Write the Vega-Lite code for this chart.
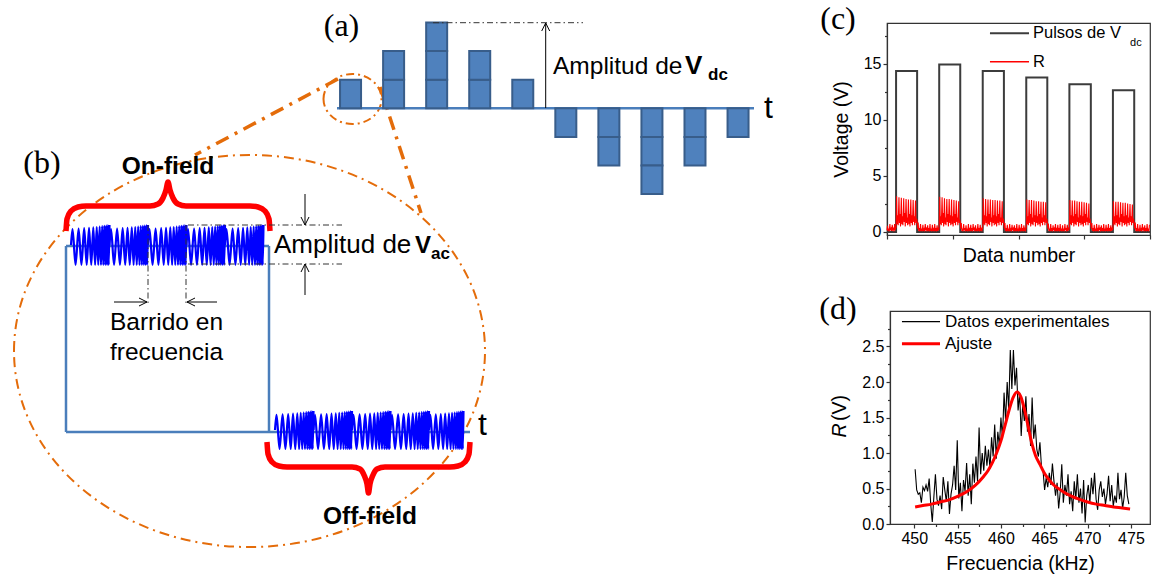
{
  "$schema": "https://vega.github.io/schema/vega-lite/v6.json",
  "padding": 0,
  "autosize": {"type": "pad"},
  "background": "white",
  "spacing": 0,
  "bounds": "flush",
  "datasets": {
    "blocks": [
      {"t": 1, "lo": 0, "hi": 1},
      {"t": 2, "lo": 0, "hi": 1}, {"t": 2, "lo": 1, "hi": 2},
      {"t": 3, "lo": 0, "hi": 1}, {"t": 3, "lo": 1, "hi": 2}, {"t": 3, "lo": 2, "hi": 3},
      {"t": 4, "lo": 0, "hi": 1}, {"t": 4, "lo": 1, "hi": 2},
      {"t": 5, "lo": 0, "hi": 1},
      {"t": 6, "lo": -1, "hi": 0},
      {"t": 7, "lo": -1, "hi": 0}, {"t": 7, "lo": -2, "hi": -1},
      {"t": 8, "lo": -1, "hi": 0}, {"t": 8, "lo": -2, "hi": -1}, {"t": 8, "lo": -3, "hi": -2},
      {"t": 9, "lo": -1, "hi": 0}, {"t": 9, "lo": -2, "hi": -1},
      {"t": 10, "lo": -1, "hi": 0}
    ],
    "chirp": [
      {"u": 0, "v": 0}, {"u": 1.5, "v": 0.8}, {"u": 4.5, "v": -1}, {"u": 7.5, "v": 0.82}, {"u": 10.3, "v": -1},
      {"u": 13, "v": 0.84}, {"u": 15.5, "v": -1}, {"u": 17.8, "v": 0.86}, {"u": 20, "v": -1}, {"u": 22, "v": 0.88},
      {"u": 23.8, "v": -1}, {"u": 25.4, "v": 0.9}, {"u": 26.9, "v": -1}, {"u": 28.3, "v": 0.92}, {"u": 29.6, "v": -1},
      {"u": 30.8, "v": 0.94}, {"u": 31.9, "v": -1}, {"u": 32.9, "v": 0.96}, {"u": 33.9, "v": -1}, {"u": 34.8, "v": 0.97},
      {"u": 35.6, "v": -1}, {"u": 36.4, "v": 0.98}, {"u": 37.2, "v": -1}, {"u": 38, "v": 1}
    ],
    "bigEllipse": [{"x": 249.5, "y": 351}],
    "smallEllipse": [{"x": 352.5, "y": 99}],
    "links": [
      {"x": 338, "y": 79, "x2": 195, "y2": 155},
      {"x": 380, "y": 87, "x2": 421, "y2": 213}
    ],
    "blueLines": [
      {"x": 66, "y": 246, "x2": 269, "y2": 246},
      {"x": 66, "y": 246, "x2": 66, "y2": 432},
      {"x": 269, "y": 246, "x2": 269, "y2": 432},
      {"x": 66, "y": 432, "x2": 470, "y2": 432},
      {"x": 337, "y": 108.3, "x2": 754, "y2": 108.3}
    ],
    "dashDot": [
      {"x": 433, "y": 22.7, "x2": 583, "y2": 22.7},
      {"x": 188, "y": 225, "x2": 342, "y2": 225},
      {"x": 188, "y": 264, "x2": 342, "y2": 264},
      {"x": 148, "y": 225, "x2": 148, "y2": 306},
      {"x": 186, "y": 225, "x2": 186, "y2": 306}
    ],
    "arrows": [
      {"x": 545.7, "y": 108, "x2": 545.7, "y2": 23}, {"x": 541.7, "y": 31, "x2": 545.7, "y2": 23}, {"x": 549.7, "y": 31, "x2": 545.7, "y2": 23},
      {"x": 305, "y": 194, "x2": 305, "y2": 225}, {"x": 301, "y": 217, "x2": 305, "y2": 225}, {"x": 309, "y": 217, "x2": 305, "y2": 225},
      {"x": 305, "y": 295, "x2": 305, "y2": 264}, {"x": 301, "y": 272, "x2": 305, "y2": 264}, {"x": 309, "y": 272, "x2": 305, "y2": 264},
      {"x": 114, "y": 302, "x2": 147, "y2": 302}, {"x": 139, "y": 298, "x2": 147, "y2": 302}, {"x": 139, "y": 306, "x2": 147, "y2": 302},
      {"x": 217, "y": 302, "x2": 187, "y2": 302}, {"x": 195, "y": 298, "x2": 187, "y2": 302}, {"x": 195, "y": 306, "x2": 187, "y2": 302}
    ],
    "braces": [
      {"g": "on", "x": 66, "y": 231}, {"g": "on", "x": 67, "y": 219}, {"g": "on", "x": 71, "y": 211}, {"g": "on", "x": 78, "y": 207},
      {"g": "on", "x": 86, "y": 206}, {"g": "on", "x": 150, "y": 206}, {"g": "on", "x": 158, "y": 204}, {"g": "on", "x": 163, "y": 198},
      {"g": "on", "x": 166, "y": 190}, {"g": "on", "x": 168, "y": 182}, {"g": "on", "x": 170, "y": 190}, {"g": "on", "x": 173, "y": 198},
      {"g": "on", "x": 178, "y": 204}, {"g": "on", "x": 186, "y": 206}, {"g": "on", "x": 250, "y": 206}, {"g": "on", "x": 258, "y": 207},
      {"g": "on", "x": 265, "y": 211}, {"g": "on", "x": 269, "y": 219}, {"g": "on", "x": 270, "y": 231},
      {"g": "off", "x": 267, "y": 442}, {"g": "off", "x": 268, "y": 454}, {"g": "off", "x": 272, "y": 462}, {"g": "off", "x": 279, "y": 466},
      {"g": "off", "x": 287, "y": 467}, {"g": "off", "x": 352, "y": 467}, {"g": "off", "x": 360, "y": 469}, {"g": "off", "x": 364, "y": 475},
      {"g": "off", "x": 367, "y": 484}, {"g": "off", "x": 368.5, "y": 493}, {"g": "off", "x": 370, "y": 484}, {"g": "off", "x": 373, "y": 475},
      {"g": "off", "x": 377, "y": 469}, {"g": "off", "x": 385, "y": 467}, {"g": "off", "x": 450, "y": 467}, {"g": "off", "x": 458, "y": 466},
      {"g": "off", "x": 465, "y": 462}, {"g": "off", "x": 469, "y": 454}, {"g": "off", "x": 470, "y": 442}
    ],
    "panelLabels": [
      {"x": 341.5, "y": 36, "s": "(a)"}, {"x": 42, "y": 173, "s": "(b)"},
      {"x": 838, "y": 29, "s": "(c)"}, {"x": 838, "y": 319, "s": "(d)"}
    ],
    "tLabels": [{"x": 768.5, "y": 118, "s": "t"}, {"x": 482.5, "y": 435, "s": "t"}],
    "ampA": [{"x": 553, "y": 74, "s": "Amplitud de"}],
    "ampB": [{"x": 274, "y": 253, "s": "Amplitud de"}],
    "vA": [{"x": 685, "y": 74, "s": "V"}],
    "vB": [{"x": 415, "y": 253, "s": "V"}],
    "subs": [{"x": 708, "y": 80, "s": "dc"}, {"x": 431, "y": 259, "s": "ac"}],
    "sweep": [{"x": 166.5, "y": 330, "s": "Barrido en"}, {"x": 166.5, "y": 360, "s": "frecuencia"}],
    "fields": [{"x": 168, "y": 174, "s": "On-field"}, {"x": 370, "y": 524, "s": "Off-field"}],
    "rTitleItalic": [{"x": 840, "y": 430.5, "s": "R"}],
    "rTitleUnit": [{"x": 840, "y": 408, "s": "(V)"}],
    "pulses": [
      {"n": 0, "v": 0}, {"n": 69, "v": 14.37}, {"n": 229, "v": 0}, {"n": 397, "v": 14.95}, {"n": 557, "v": 0},
      {"n": 728, "v": 14.37}, {"n": 889, "v": 0}, {"n": 1059, "v": 13.8}, {"n": 1219, "v": 0}, {"n": 1387, "v": 13.2},
      {"n": 1550, "v": 0}, {"n": 1718, "v": 12.65}, {"n": 1880, "v": 0}, {"n": 2000, "v": 0}
    ],
    "rSignal": [
      {"n":0,"r":0.15},{"n":4,"r":0.55},{"n":8,"r":0.1},{"n":13,"r":0.3},{"n":17,"r":0.05},{"n":22,"r":0.7},{"n":26,"r":0.15},{"n":31,"r":0.3},{"n":35,"r":0.1},{"n":40,"r":0.65},{"n":44,"r":0.2},{"n":49,"r":0.3},{"n":53,"r":0.05},{"n":58,"r":0.7},{"n":62,"r":0.15},{"n":66,"r":0.35},
      {"n":69,"r":0.4},{"n":73,"r":3.2},{"n":77,"r":0.7},{"n":81,"r":1.5},{"n":85,"r":0.6},{"n":91,"r":3.1},{"n":95,"r":0.8},{"n":99,"r":1.6},{"n":103,"r":0.5},{"n":109,"r":3.05},{"n":113,"r":0.7},{"n":117,"r":1.4},{"n":121,"r":0.6},{"n":127,"r":3.0},{"n":131,"r":0.9},{"n":135,"r":1.7},{"n":139,"r":0.5},{"n":145,"r":2.95},{"n":149,"r":0.8},{"n":153,"r":1.3},{"n":157,"r":0.6},{"n":163,"r":2.9},{"n":167,"r":0.7},{"n":171,"r":1.6},{"n":175,"r":0.5},{"n":181,"r":2.9},{"n":185,"r":0.8},{"n":189,"r":1.5},{"n":193,"r":0.6},{"n":199,"r":2.85},{"n":203,"r":0.9},{"n":207,"r":1.4},{"n":211,"r":0.6},{"n":217,"r":2.8},{"n":221,"r":0.8},{"n":225,"r":1.2},{"n":229,"r":0.9},
      {"n":233,"r":0.3},{"n":237,"r":0.85},{"n":241,"r":0.1},{"n":246,"r":0.35},{"n":250,"r":0.05},{"n":255,"r":0.7},{"n":259,"r":0.1},{"n":264,"r":0.3},{"n":268,"r":0.05},{"n":273,"r":0.65},{"n":277,"r":0.1},{"n":282,"r":0.25},{"n":286,"r":0.05},{"n":291,"r":0.7},{"n":295,"r":0.15},{"n":300,"r":0.3},{"n":304,"r":0.05},{"n":309,"r":0.6},{"n":313,"r":0.1},{"n":318,"r":0.35},{"n":322,"r":0.05},{"n":327,"r":0.7},{"n":331,"r":0.1},{"n":336,"r":0.3},{"n":340,"r":0.05},{"n":345,"r":0.65},{"n":349,"r":0.1},{"n":354,"r":0.25},{"n":358,"r":0.05},{"n":363,"r":0.7},{"n":367,"r":0.1},{"n":372,"r":0.35},{"n":376,"r":0.05},{"n":381,"r":0.6},{"n":385,"r":0.1},{"n":390,"r":0.3},{"n":394,"r":0.15},
      {"n":397,"r":0.4},{"n":401,"r":3.15},{"n":405,"r":0.7},{"n":409,"r":1.4},{"n":413,"r":0.6},{"n":419,"r":3.1},{"n":423,"r":0.8},{"n":427,"r":1.7},{"n":431,"r":0.5},{"n":437,"r":3.0},{"n":441,"r":0.7},{"n":445,"r":1.3},{"n":449,"r":0.6},{"n":455,"r":2.95},{"n":459,"r":0.9},{"n":463,"r":1.6},{"n":467,"r":0.5},{"n":473,"r":2.95},{"n":477,"r":0.8},{"n":481,"r":1.5},{"n":485,"r":0.6},{"n":491,"r":2.9},{"n":495,"r":0.7},{"n":499,"r":1.4},{"n":503,"r":0.5},{"n":509,"r":2.85},{"n":513,"r":0.8},{"n":517,"r":1.6},{"n":521,"r":0.6},{"n":527,"r":2.8},{"n":531,"r":0.9},{"n":535,"r":1.3},{"n":539,"r":0.6},{"n":545,"r":2.75},{"n":549,"r":0.8},{"n":553,"r":1.1},{"n":557,"r":0.9},
      {"n":561,"r":0.3},{"n":565,"r":0.8},{"n":569,"r":0.1},{"n":574,"r":0.3},{"n":578,"r":0.05},{"n":583,"r":0.7},{"n":587,"r":0.15},{"n":592,"r":0.35},{"n":596,"r":0.05},{"n":601,"r":0.6},{"n":605,"r":0.1},{"n":610,"r":0.3},{"n":614,"r":0.05},{"n":619,"r":0.7},{"n":623,"r":0.1},{"n":628,"r":0.25},{"n":632,"r":0.05},{"n":637,"r":0.65},{"n":641,"r":0.1},{"n":646,"r":0.35},{"n":650,"r":0.05},{"n":655,"r":0.7},{"n":659,"r":0.15},{"n":664,"r":0.3},{"n":668,"r":0.05},{"n":673,"r":0.6},{"n":677,"r":0.1},{"n":682,"r":0.3},{"n":686,"r":0.05},{"n":691,"r":0.7},{"n":695,"r":0.1},{"n":700,"r":0.35},{"n":704,"r":0.05},{"n":709,"r":0.65},{"n":713,"r":0.1},{"n":718,"r":0.3},{"n":722,"r":0.15},
      {"n":728,"r":0.4},{"n":732,"r":3.0},{"n":736,"r":0.7},{"n":740,"r":1.5},{"n":744,"r":0.6},{"n":750,"r":2.95},{"n":754,"r":0.8},{"n":758,"r":1.4},{"n":762,"r":0.5},{"n":768,"r":2.9},{"n":772,"r":0.7},{"n":776,"r":1.6},{"n":780,"r":0.6},{"n":786,"r":2.9},{"n":790,"r":0.9},{"n":794,"r":1.3},{"n":798,"r":0.5},{"n":804,"r":2.85},{"n":808,"r":0.8},{"n":812,"r":1.5},{"n":816,"r":0.6},{"n":822,"r":2.85},{"n":826,"r":0.7},{"n":830,"r":1.4},{"n":834,"r":0.5},{"n":840,"r":2.8},{"n":844,"r":0.8},{"n":848,"r":1.6},{"n":852,"r":0.6},{"n":858,"r":2.8},{"n":862,"r":0.9},{"n":866,"r":1.3},{"n":870,"r":0.6},{"n":876,"r":2.75},{"n":880,"r":0.8},{"n":884,"r":1.2},{"n":888,"r":0.9},
      {"n":893,"r":0.3},{"n":897,"r":0.8},{"n":901,"r":0.1},{"n":906,"r":0.35},{"n":910,"r":0.05},{"n":915,"r":0.65},{"n":919,"r":0.1},{"n":924,"r":0.3},{"n":928,"r":0.05},{"n":933,"r":0.7},{"n":937,"r":0.1},{"n":942,"r":0.25},{"n":946,"r":0.05},{"n":951,"r":0.65},{"n":955,"r":0.15},{"n":960,"r":0.3},{"n":964,"r":0.05},{"n":969,"r":0.6},{"n":973,"r":0.1},{"n":978,"r":0.35},{"n":982,"r":0.05},{"n":987,"r":0.7},{"n":991,"r":0.1},{"n":996,"r":0.3},{"n":1000,"r":0.05},{"n":1005,"r":0.65},{"n":1009,"r":0.1},{"n":1014,"r":0.25},{"n":1018,"r":0.05},{"n":1023,"r":0.7},{"n":1027,"r":0.1},{"n":1032,"r":0.35},{"n":1036,"r":0.05},{"n":1041,"r":0.6},{"n":1045,"r":0.1},{"n":1050,"r":0.3},{"n":1054,"r":0.15},
      {"n":1059,"r":0.4},{"n":1063,"r":2.9},{"n":1067,"r":0.7},{"n":1071,"r":1.4},{"n":1075,"r":0.6},{"n":1081,"r":2.85},{"n":1085,"r":0.8},{"n":1089,"r":1.6},{"n":1093,"r":0.5},{"n":1099,"r":2.85},{"n":1103,"r":0.7},{"n":1107,"r":1.3},{"n":1111,"r":0.6},{"n":1117,"r":2.8},{"n":1121,"r":0.9},{"n":1125,"r":1.5},{"n":1129,"r":0.5},{"n":1135,"r":2.75},{"n":1139,"r":0.8},{"n":1143,"r":1.4},{"n":1147,"r":0.6},{"n":1153,"r":2.75},{"n":1157,"r":0.7},{"n":1161,"r":1.6},{"n":1165,"r":0.5},{"n":1171,"r":2.7},{"n":1175,"r":0.8},{"n":1179,"r":1.3},{"n":1183,"r":0.6},{"n":1189,"r":2.7},{"n":1193,"r":0.9},{"n":1197,"r":1.5},{"n":1201,"r":0.6},{"n":1207,"r":2.65},{"n":1211,"r":0.8},{"n":1215,"r":1.2},{"n":1219,"r":0.9},
      {"n":1223,"r":0.3},{"n":1227,"r":0.75},{"n":1231,"r":0.1},{"n":1236,"r":0.3},{"n":1240,"r":0.05},{"n":1245,"r":0.7},{"n":1249,"r":0.1},{"n":1254,"r":0.35},{"n":1258,"r":0.05},{"n":1263,"r":0.6},{"n":1267,"r":0.15},{"n":1272,"r":0.3},{"n":1276,"r":0.05},{"n":1281,"r":0.7},{"n":1285,"r":0.1},{"n":1290,"r":0.25},{"n":1294,"r":0.05},{"n":1299,"r":0.65},{"n":1303,"r":0.1},{"n":1308,"r":0.35},{"n":1312,"r":0.05},{"n":1317,"r":0.7},{"n":1321,"r":0.1},{"n":1326,"r":0.3},{"n":1330,"r":0.05},{"n":1335,"r":0.6},{"n":1339,"r":0.1},{"n":1344,"r":0.3},{"n":1348,"r":0.05},{"n":1353,"r":0.7},{"n":1357,"r":0.15},{"n":1362,"r":0.35},{"n":1366,"r":0.05},{"n":1371,"r":0.65},{"n":1375,"r":0.1},{"n":1380,"r":0.3},{"n":1384,"r":0.15},
      {"n":1387,"r":0.4},{"n":1391,"r":2.85},{"n":1395,"r":0.7},{"n":1399,"r":1.5},{"n":1403,"r":0.6},{"n":1409,"r":2.8},{"n":1413,"r":0.8},{"n":1417,"r":1.4},{"n":1421,"r":0.5},{"n":1427,"r":2.8},{"n":1431,"r":0.7},{"n":1435,"r":1.6},{"n":1439,"r":0.6},{"n":1445,"r":2.75},{"n":1449,"r":0.9},{"n":1453,"r":1.3},{"n":1457,"r":0.5},{"n":1463,"r":2.7},{"n":1467,"r":0.8},{"n":1471,"r":1.5},{"n":1475,"r":0.6},{"n":1481,"r":2.7},{"n":1485,"r":0.7},{"n":1489,"r":1.4},{"n":1493,"r":0.5},{"n":1499,"r":2.65},{"n":1503,"r":0.8},{"n":1507,"r":1.6},{"n":1511,"r":0.6},{"n":1517,"r":2.6},{"n":1521,"r":0.9},{"n":1525,"r":1.3},{"n":1529,"r":0.6},{"n":1535,"r":2.55},{"n":1539,"r":0.8},{"n":1543,"r":1.2},{"n":1547,"r":0.9},
      {"n":1554,"r":0.3},{"n":1558,"r":0.8},{"n":1562,"r":0.1},{"n":1567,"r":0.35},{"n":1571,"r":0.05},{"n":1576,"r":0.65},{"n":1580,"r":0.1},{"n":1585,"r":0.3},{"n":1589,"r":0.05},{"n":1594,"r":0.7},{"n":1598,"r":0.1},{"n":1603,"r":0.25},{"n":1607,"r":0.05},{"n":1612,"r":0.65},{"n":1616,"r":0.15},{"n":1621,"r":0.3},{"n":1625,"r":0.05},{"n":1630,"r":0.6},{"n":1634,"r":0.1},{"n":1639,"r":0.35},{"n":1643,"r":0.05},{"n":1648,"r":0.7},{"n":1652,"r":0.1},{"n":1657,"r":0.3},{"n":1661,"r":0.05},{"n":1666,"r":0.65},{"n":1670,"r":0.1},{"n":1675,"r":0.25},{"n":1679,"r":0.05},{"n":1684,"r":0.7},{"n":1688,"r":0.1},{"n":1693,"r":0.35},{"n":1697,"r":0.05},{"n":1702,"r":0.6},{"n":1706,"r":0.1},{"n":1711,"r":0.3},{"n":1715,"r":0.15},
      {"n":1718,"r":0.4},{"n":1722,"r":2.75},{"n":1726,"r":0.7},{"n":1730,"r":1.4},{"n":1734,"r":0.6},{"n":1740,"r":2.7},{"n":1744,"r":0.8},{"n":1748,"r":1.5},{"n":1752,"r":0.5},{"n":1758,"r":2.7},{"n":1762,"r":0.7},{"n":1766,"r":1.3},{"n":1770,"r":0.6},{"n":1776,"r":2.65},{"n":1780,"r":0.9},{"n":1784,"r":1.6},{"n":1788,"r":0.5},{"n":1794,"r":2.6},{"n":1798,"r":0.8},{"n":1802,"r":1.4},{"n":1806,"r":0.6},{"n":1812,"r":2.6},{"n":1816,"r":0.7},{"n":1820,"r":1.5},{"n":1824,"r":0.5},{"n":1830,"r":2.55},{"n":1834,"r":0.8},{"n":1838,"r":1.3},{"n":1842,"r":0.6},{"n":1848,"r":2.5},{"n":1852,"r":0.9},{"n":1856,"r":1.4},{"n":1860,"r":0.6},{"n":1866,"r":2.45},{"n":1870,"r":0.8},{"n":1874,"r":1.2},{"n":1878,"r":0.9},
      {"n":1884,"r":0.3},{"n":1888,"r":0.85},{"n":1892,"r":0.1},{"n":1897,"r":0.35},{"n":1901,"r":0.05},{"n":1906,"r":0.7},{"n":1910,"r":0.1},{"n":1915,"r":0.3},{"n":1919,"r":0.05},{"n":1924,"r":0.65},{"n":1928,"r":0.1},{"n":1933,"r":0.25},{"n":1937,"r":0.05},{"n":1942,"r":0.7},{"n":1946,"r":0.15},{"n":1951,"r":0.3},{"n":1955,"r":0.05},{"n":1960,"r":0.6},{"n":1964,"r":0.1},{"n":1969,"r":0.35},{"n":1973,"r":0.05},{"n":1978,"r":0.7},{"n":1982,"r":0.1},{"n":1987,"r":0.3},{"n":1991,"r":0.05},{"n":1996,"r":0.65}
    ],
    "cLegendBlack": [{"n": 783, "n2": 1080, "v": 17.74}],
    "cLegendRed": [{"n": 783, "n2": 1080, "v": 15.2}],
    "cLegendText": [{"n": 1110, "v": 17.74, "s": "Pulsos de V"}, {"n": 1110, "v": 15.2, "s": "R"}],
    "cLegendSub": [{"n": 1848, "v": 16.85, "s": "dc"}],
    "resonance": [
      {"f":450.10,"r":0.77},{"f":450.28,"r":0.48},{"f":450.46,"r":0.42},{"f":450.64,"r":0.44},{"f":450.82,"r":0.30},{"f":451.00,"r":0.52},{"f":451.18,"r":0.47},{"f":451.36,"r":0.55},{"f":451.54,"r":0.46},{"f":451.72,"r":0.64},
      {"f":451.90,"r":0.28},{"f":452.08,"r":0.03},{"f":452.26,"r":0.38},{"f":452.44,"r":0.70},{"f":452.62,"r":0.35},{"f":452.80,"r":0.26},{"f":452.98,"r":0.40},{"f":453.16,"r":0.21},{"f":453.34,"r":0.66},{"f":453.52,"r":0.48},
      {"f":453.70,"r":0.32},{"f":453.88,"r":0.60},{"f":454.06,"r":0.14},{"f":454.24,"r":0.42},{"f":454.42,"r":0.55},{"f":454.60,"r":0.82},{"f":454.78,"r":0.48},{"f":454.96,"r":1.18},{"f":455.14,"r":0.36},{"f":455.32,"r":0.58},
      {"f":455.50,"r":0.18},{"f":455.68,"r":0.62},{"f":455.86,"r":0.46},{"f":456.04,"r":0.86},{"f":456.22,"r":0.40},{"f":456.40,"r":0.70},{"f":456.58,"r":0.28},{"f":456.76,"r":0.85},{"f":456.94,"r":0.58},{"f":457.12,"r":0.95},
      {"f":457.30,"r":0.60},{"f":457.48,"r":1.36},{"f":457.66,"r":0.70},{"f":457.84,"r":1.00},{"f":458.02,"r":0.75},{"f":458.20,"r":1.10},{"f":458.38,"r":0.82},{"f":458.56,"r":1.05},{"f":458.74,"r":0.78},{"f":458.92,"r":1.22},
      {"f":459.10,"r":0.95},{"f":459.28,"r":1.40},{"f":459.46,"r":0.92},{"f":459.64,"r":1.30},{"f":459.82,"r":1.10},{"f":460.00,"r":1.50},{"f":460.18,"r":1.20},{"f":460.36,"r":1.85},{"f":460.54,"r":1.45},{"f":460.72,"r":2.00},
      {"f":460.90,"r":1.60},{"f":461.08,"r":2.45},{"f":461.26,"r":1.90},{"f":461.44,"r":2.45},{"f":461.62,"r":1.95},{"f":461.80,"r":2.20},{"f":461.98,"r":1.60},{"f":462.16,"r":1.85},{"f":462.34,"r":1.24},{"f":462.52,"r":1.70},
      {"f":462.70,"r":1.45},{"f":462.88,"r":1.80},{"f":463.06,"r":1.30},{"f":463.24,"r":1.55},{"f":463.42,"r":1.10},{"f":463.60,"r":1.78},{"f":463.78,"r":1.20},{"f":463.96,"r":1.40},{"f":464.14,"r":1.05},{"f":464.32,"r":0.95},
      {"f":464.50,"r":1.15},{"f":464.68,"r":0.80},{"f":464.86,"r":0.75},{"f":465.04,"r":0.48},{"f":465.22,"r":0.65},{"f":465.40,"r":0.52},{"f":465.58,"r":0.72},{"f":465.76,"r":0.55},{"f":465.94,"r":0.85},{"f":466.12,"r":0.60},
      {"f":466.30,"r":0.40},{"f":466.48,"r":0.58},{"f":466.66,"r":0.22},{"f":466.84,"r":0.45},{"f":467.02,"r":0.84},{"f":467.20,"r":0.30},{"f":467.38,"r":0.55},{"f":467.56,"r":0.40},{"f":467.74,"r":0.70},{"f":467.92,"r":0.28},
      {"f":468.10,"r":0.46},{"f":468.28,"r":0.18},{"f":468.46,"r":0.60},{"f":468.64,"r":0.35},{"f":468.82,"r":0.70},{"f":469.00,"r":0.30},{"f":469.18,"r":0.50},{"f":469.36,"r":0.15},{"f":469.54,"r":0.62},{"f":469.72,"r":0.02},
      {"f":469.90,"r":0.40},{"f":470.08,"r":0.55},{"f":470.26,"r":0.30},{"f":470.44,"r":0.65},{"f":470.62,"r":0.42},{"f":470.80,"r":0.72},{"f":470.98,"r":0.35},{"f":471.16,"r":0.20},{"f":471.34,"r":0.48},{"f":471.52,"r":0.60},
      {"f":471.70,"r":0.38},{"f":471.88,"r":0.50},{"f":472.06,"r":0.28},{"f":472.24,"r":0.42},{"f":472.42,"r":0.68},{"f":472.60,"r":0.32},{"f":472.78,"r":0.55},{"f":472.96,"r":0.25},{"f":473.14,"r":0.40},{"f":473.32,"r":0.30},
      {"f":473.50,"r":0.72},{"f":473.68,"r":0.35},{"f":473.86,"r":0.48},{"f":474.04,"r":0.22},{"f":474.22,"r":0.38},{"f":474.40,"r":0.72},{"f":474.58,"r":0.40},{"f":474.76,"r":0.28}
    ],
    "fit": [
      {"f":450.1,"r":0.24},{"f":451,"r":0.26},{"f":452,"r":0.28},{"f":453,"r":0.31},{"f":454,"r":0.34},{"f":455,"r":0.39},{"f":456,"r":0.45},{"f":457,"r":0.54},{"f":458,"r":0.67},{"f":458.5,"r":0.75},
      {"f":459,"r":0.86},{"f":459.5,"r":1.0},{"f":460,"r":1.17},{"f":460.5,"r":1.4},{"f":461,"r":1.63},{"f":461.4,"r":1.78},{"f":461.85,"r":1.86},{"f":462.3,"r":1.79},{"f":462.7,"r":1.62},{"f":463.1,"r":1.4},
      {"f":463.6,"r":1.12},{"f":464,"r":0.96},{"f":464.5,"r":0.84},{"f":465,"r":0.72},{"f":465.5,"r":0.63},{"f":466,"r":0.56},{"f":467,"r":0.47},{"f":468,"r":0.4},{"f":469,"r":0.35},{"f":470,"r":0.31},
      {"f":471,"r":0.28},{"f":472,"r":0.26},{"f":473,"r":0.24},{"f":474,"r":0.225},{"f":474.9,"r":0.21}
    ],
    "dLegendBlack": [{"f": 448.58, "f2": 452.97, "r": 2.85}],
    "dLegendRed": [{"f": 448.58, "f2": 452.97, "r": 2.54}],
    "dLegendText": [{"f": 453.55, "r": 2.85, "s": "Datos experimentales"}, {"f": 453.55, "r": 2.54, "s": "Ajuste"}]
  },
  "hconcat": [
    {
      "width": 887,
      "height": 577,
      "resolve": {"scale": {"x": "independent", "y": "independent"}},
      "layer": [
        {
          "data": {"name": "bigEllipse"},
          "mark": {"type": "point", "shape": "M-1,0A1,0.8323,0,1,1,1,0A1,0.8323,0,1,1,-1,0Z", "size": 221841, "filled": false, "opacity": 1, "color": "#e46c0a", "strokeWidth": 2, "strokeDash": [10, 5, 2, 5]},
          "encoding": {
            "x": {"field": "x", "type": "quantitative", "scale": {"domain": [0, 887], "nice": false, "zero": false}, "axis": null},
            "y": {"field": "y", "type": "quantitative", "scale": {"domain": [0, 577], "reverse": true, "nice": false, "zero": false}, "axis": null}
          }
        },
        {
          "data": {"name": "smallEllipse"},
          "mark": {"type": "point", "shape": "M-1,0A1,0.862,0,1,1,1,0A1,0.862,0,1,1,-1,0Z", "size": 3364, "filled": false, "opacity": 1, "color": "#e46c0a", "strokeWidth": 2, "strokeDash": [8, 4, 2, 4]},
          "encoding": {
            "x": {"field": "x", "type": "quantitative", "scale": {"domain": [0, 887], "nice": false, "zero": false}, "axis": null},
            "y": {"field": "y", "type": "quantitative", "scale": {"domain": [0, 577], "reverse": true, "nice": false, "zero": false}, "axis": null}
          }
        },
        {
          "data": {"name": "links"},
          "mark": {"type": "rule", "color": "#e46c0a", "strokeWidth": 3.5, "strokeDash": [14, 7, 3, 7]},
          "encoding": {
            "x": {"field": "x", "type": "quantitative", "scale": {"domain": [0, 887], "nice": false, "zero": false}, "axis": null},
            "y": {"field": "y", "type": "quantitative", "scale": {"domain": [0, 577], "reverse": true, "nice": false, "zero": false}, "axis": null},
            "x2": {"field": "x2"},
            "y2": {"field": "y2"}
          }
        },
        {
          "data": {"name": "blueLines"},
          "mark": {"type": "rule", "color": "#4a7ebb", "strokeWidth": 2.5},
          "encoding": {
            "x": {"field": "x", "type": "quantitative", "scale": {"domain": [0, 887], "nice": false, "zero": false}, "axis": null},
            "y": {"field": "y", "type": "quantitative", "scale": {"domain": [0, 577], "reverse": true, "nice": false, "zero": false}, "axis": null},
            "x2": {"field": "x2"},
            "y2": {"field": "y2"}
          }
        },
        {
          "data": {"name": "blocks"},
          "mark": {"type": "bar", "size": 21, "fill": "#4f81bd", "stroke": "#385d8a", "strokeWidth": 2},
          "encoding": {
            "x": {"field": "t", "type": "quantitative", "scale": {"domain": [0, 11], "range": [302.5, 786.1], "nice": false, "zero": false}, "axis": null},
            "y": {"field": "lo", "type": "quantitative", "scale": {"domain": [-4, 4], "range": [222.7, -6.1], "nice": false, "zero": false}, "axis": null},
            "y2": {"field": "hi"}
          }
        },
        {"data": {"name": "chirp"}, "mark": {"type": "line", "color": "#0000ff", "strokeWidth": 2.2, "interpolate": "monotone"},
         "encoding": {"x": {"field": "u", "type": "quantitative", "scale": {"domain": [0, 38], "range": [71, 109.5], "nice": false, "zero": false}, "axis": null},
                      "y": {"field": "v", "type": "quantitative", "scale": {"domain": [-1, 1], "range": [265, 225], "nice": false, "zero": false}, "axis": null}}},
        {"data": {"name": "chirp"}, "mark": {"type": "line", "color": "#0000ff", "strokeWidth": 2.2, "interpolate": "monotone"},
         "encoding": {"x": {"field": "u", "type": "quantitative", "scale": {"domain": [0, 38], "range": [109.5, 148], "nice": false, "zero": false}, "axis": null},
                      "y": {"field": "v", "type": "quantitative", "scale": {"domain": [-1, 1], "range": [265, 225], "nice": false, "zero": false}, "axis": null}}},
        {"data": {"name": "chirp"}, "mark": {"type": "line", "color": "#0000ff", "strokeWidth": 2.2, "interpolate": "monotone"},
         "encoding": {"x": {"field": "u", "type": "quantitative", "scale": {"domain": [0, 38], "range": [148, 186.5], "nice": false, "zero": false}, "axis": null},
                      "y": {"field": "v", "type": "quantitative", "scale": {"domain": [-1, 1], "range": [265, 225], "nice": false, "zero": false}, "axis": null}}},
        {"data": {"name": "chirp"}, "mark": {"type": "line", "color": "#0000ff", "strokeWidth": 2.2, "interpolate": "monotone"},
         "encoding": {"x": {"field": "u", "type": "quantitative", "scale": {"domain": [0, 38], "range": [186.5, 225], "nice": false, "zero": false}, "axis": null},
                      "y": {"field": "v", "type": "quantitative", "scale": {"domain": [-1, 1], "range": [265, 225], "nice": false, "zero": false}, "axis": null}}},
        {"data": {"name": "chirp"}, "mark": {"type": "line", "color": "#0000ff", "strokeWidth": 2.2, "interpolate": "monotone"},
         "encoding": {"x": {"field": "u", "type": "quantitative", "scale": {"domain": [0, 38], "range": [225, 263.5], "nice": false, "zero": false}, "axis": null},
                      "y": {"field": "v", "type": "quantitative", "scale": {"domain": [-1, 1], "range": [265, 225], "nice": false, "zero": false}, "axis": null}}},
        {"data": {"name": "chirp"}, "mark": {"type": "line", "color": "#0000ff", "strokeWidth": 2.2, "interpolate": "monotone"},
         "encoding": {"x": {"field": "u", "type": "quantitative", "scale": {"domain": [0, 38], "range": [275, 313.5], "nice": false, "zero": false}, "axis": null},
                      "y": {"field": "v", "type": "quantitative", "scale": {"domain": [-1, 1], "range": [449, 411], "nice": false, "zero": false}, "axis": null}}},
        {"data": {"name": "chirp"}, "mark": {"type": "line", "color": "#0000ff", "strokeWidth": 2.2, "interpolate": "monotone"},
         "encoding": {"x": {"field": "u", "type": "quantitative", "scale": {"domain": [0, 38], "range": [313.5, 352], "nice": false, "zero": false}, "axis": null},
                      "y": {"field": "v", "type": "quantitative", "scale": {"domain": [-1, 1], "range": [449, 411], "nice": false, "zero": false}, "axis": null}}},
        {"data": {"name": "chirp"}, "mark": {"type": "line", "color": "#0000ff", "strokeWidth": 2.2, "interpolate": "monotone"},
         "encoding": {"x": {"field": "u", "type": "quantitative", "scale": {"domain": [0, 38], "range": [352, 390.5], "nice": false, "zero": false}, "axis": null},
                      "y": {"field": "v", "type": "quantitative", "scale": {"domain": [-1, 1], "range": [449, 411], "nice": false, "zero": false}, "axis": null}}},
        {"data": {"name": "chirp"}, "mark": {"type": "line", "color": "#0000ff", "strokeWidth": 2.2, "interpolate": "monotone"},
         "encoding": {"x": {"field": "u", "type": "quantitative", "scale": {"domain": [0, 38], "range": [390.5, 429], "nice": false, "zero": false}, "axis": null},
                      "y": {"field": "v", "type": "quantitative", "scale": {"domain": [-1, 1], "range": [449, 411], "nice": false, "zero": false}, "axis": null}}},
        {"data": {"name": "chirp"}, "mark": {"type": "line", "color": "#0000ff", "strokeWidth": 2.2, "interpolate": "monotone"},
         "encoding": {"x": {"field": "u", "type": "quantitative", "scale": {"domain": [0, 38], "range": [429, 463.5], "nice": false, "zero": false}, "axis": null},
                      "y": {"field": "v", "type": "quantitative", "scale": {"domain": [-1, 1], "range": [449, 411], "nice": false, "zero": false}, "axis": null}}},
        {
          "data": {"name": "braces"},
          "mark": {"type": "line", "color": "#ff0000", "strokeWidth": 5.5, "interpolate": "monotone"},
          "encoding": {
            "x": {"field": "x", "type": "quantitative", "scale": {"domain": [0, 887], "nice": false, "zero": false}, "axis": null},
            "y": {"field": "y", "type": "quantitative", "scale": {"domain": [0, 577], "reverse": true, "nice": false, "zero": false}, "axis": null},
            "detail": {"field": "g"}
          }
        },
        {
          "data": {"name": "dashDot"},
          "mark": {"type": "rule", "color": "#333333", "strokeWidth": 1, "strokeDash": [6, 3, 1.5, 3]},
          "encoding": {
            "x": {"field": "x", "type": "quantitative", "scale": {"domain": [0, 887], "nice": false, "zero": false}, "axis": null},
            "y": {"field": "y", "type": "quantitative", "scale": {"domain": [0, 577], "reverse": true, "nice": false, "zero": false}, "axis": null},
            "x2": {"field": "x2"},
            "y2": {"field": "y2"}
          }
        },
        {
          "data": {"name": "arrows"},
          "mark": {"type": "rule", "color": "#000000", "strokeWidth": 1},
          "encoding": {
            "x": {"field": "x", "type": "quantitative", "scale": {"domain": [0, 887], "nice": false, "zero": false}, "axis": null},
            "y": {"field": "y", "type": "quantitative", "scale": {"domain": [0, 577], "reverse": true, "nice": false, "zero": false}, "axis": null},
            "x2": {"field": "x2"},
            "y2": {"field": "y2"}
          }
        },
        {
          "data": {"name": "panelLabels"},
          "mark": {"type": "text", "font": "Liberation Serif", "fontSize": 32, "align": "center", "baseline": "alphabetic", "color": "#000"},
          "encoding": {
            "x": {"field": "x", "type": "quantitative", "scale": {"domain": [0, 887], "nice": false, "zero": false}, "axis": null},
            "y": {"field": "y", "type": "quantitative", "scale": {"domain": [0, 577], "reverse": true, "nice": false, "zero": false}, "axis": null},
            "text": {"field": "s"}
          }
        },
        {
          "data": {"name": "tLabels"},
          "mark": {"type": "text", "font": "Liberation Sans", "fontSize": 32, "align": "center", "baseline": "alphabetic", "color": "#000"},
          "encoding": {
            "x": {"field": "x", "type": "quantitative", "scale": {"domain": [0, 887], "nice": false, "zero": false}, "axis": null},
            "y": {"field": "y", "type": "quantitative", "scale": {"domain": [0, 577], "reverse": true, "nice": false, "zero": false}, "axis": null},
            "text": {"field": "s"}
          }
        },
        {
          "data": {"name": "ampA"},
          "mark": {"type": "text", "font": "Liberation Sans", "fontSize": 24.5, "align": "left", "baseline": "alphabetic", "color": "#000"},
          "encoding": {
            "x": {"field": "x", "type": "quantitative", "scale": {"domain": [0, 887], "nice": false, "zero": false}, "axis": null},
            "y": {"field": "y", "type": "quantitative", "scale": {"domain": [0, 577], "reverse": true, "nice": false, "zero": false}, "axis": null},
            "text": {"field": "s"}
          }
        },
        {
          "data": {"name": "ampB"},
          "mark": {"type": "text", "font": "Liberation Sans", "fontSize": 26, "align": "left", "baseline": "alphabetic", "color": "#000"},
          "encoding": {
            "x": {"field": "x", "type": "quantitative", "scale": {"domain": [0, 887], "nice": false, "zero": false}, "axis": null},
            "y": {"field": "y", "type": "quantitative", "scale": {"domain": [0, 577], "reverse": true, "nice": false, "zero": false}, "axis": null},
            "text": {"field": "s"}
          }
        },
        {
          "data": {"name": "vA"},
          "mark": {"type": "text", "font": "Liberation Sans", "fontSize": 26, "fontWeight": "bold", "align": "left", "baseline": "alphabetic", "color": "#000"},
          "encoding": {
            "x": {"field": "x", "type": "quantitative", "scale": {"domain": [0, 887], "nice": false, "zero": false}, "axis": null},
            "y": {"field": "y", "type": "quantitative", "scale": {"domain": [0, 577], "reverse": true, "nice": false, "zero": false}, "axis": null},
            "text": {"field": "s"}
          }
        },
        {
          "data": {"name": "vB"},
          "mark": {"type": "text", "font": "Liberation Sans", "fontSize": 24, "fontWeight": "bold", "align": "left", "baseline": "alphabetic", "color": "#000"},
          "encoding": {
            "x": {"field": "x", "type": "quantitative", "scale": {"domain": [0, 887], "nice": false, "zero": false}, "axis": null},
            "y": {"field": "y", "type": "quantitative", "scale": {"domain": [0, 577], "reverse": true, "nice": false, "zero": false}, "axis": null},
            "text": {"field": "s"}
          }
        },
        {
          "data": {"name": "subs"},
          "mark": {"type": "text", "font": "Liberation Sans", "fontSize": 17, "fontWeight": "bold", "align": "left", "baseline": "alphabetic", "color": "#000"},
          "encoding": {
            "x": {"field": "x", "type": "quantitative", "scale": {"domain": [0, 887], "nice": false, "zero": false}, "axis": null},
            "y": {"field": "y", "type": "quantitative", "scale": {"domain": [0, 577], "reverse": true, "nice": false, "zero": false}, "axis": null},
            "text": {"field": "s"}
          }
        },
        {
          "data": {"name": "sweep"},
          "mark": {"type": "text", "font": "Liberation Sans", "fontSize": 24.5, "align": "center", "baseline": "alphabetic", "color": "#000"},
          "encoding": {
            "x": {"field": "x", "type": "quantitative", "scale": {"domain": [0, 887], "nice": false, "zero": false}, "axis": null},
            "y": {"field": "y", "type": "quantitative", "scale": {"domain": [0, 577], "reverse": true, "nice": false, "zero": false}, "axis": null},
            "text": {"field": "s"}
          }
        },
        {
          "data": {"name": "fields"},
          "mark": {"type": "text", "font": "Liberation Sans", "fontSize": 24.5, "fontWeight": "bold", "align": "center", "baseline": "alphabetic", "color": "#000"},
          "encoding": {
            "x": {"field": "x", "type": "quantitative", "scale": {"domain": [0, 887], "nice": false, "zero": false}, "axis": null},
            "y": {"field": "y", "type": "quantitative", "scale": {"domain": [0, 577], "reverse": true, "nice": false, "zero": false}, "axis": null},
            "text": {"field": "s"}
          }
        },
        {
          "data": {"name": "rTitleItalic"},
          "mark": {"type": "text", "font": "Liberation Sans", "fontSize": 19.5, "fontStyle": "italic", "angle": 270, "align": "center", "baseline": "middle", "color": "#000"},
          "encoding": {
            "x": {"field": "x", "type": "quantitative", "scale": {"domain": [0, 887], "nice": false, "zero": false}, "axis": null},
            "y": {"field": "y", "type": "quantitative", "scale": {"domain": [0, 577], "reverse": true, "nice": false, "zero": false}, "axis": null},
            "text": {"field": "s"}
          }
        },
        {
          "data": {"name": "rTitleUnit"},
          "mark": {"type": "text", "font": "Liberation Sans", "fontSize": 19.5, "angle": 270, "align": "center", "baseline": "middle", "color": "#000"},
          "encoding": {
            "x": {"field": "x", "type": "quantitative", "scale": {"domain": [0, 887], "nice": false, "zero": false}, "axis": null},
            "y": {"field": "y", "type": "quantitative", "scale": {"domain": [0, 577], "reverse": true, "nice": false, "zero": false}, "axis": null},
            "text": {"field": "s"}
          }
        }
      ]
    },
    {
      "spacing": 0,
      "bounds": "flush",
      "vconcat": [
        {"width": 10, "height": 23, "data": {"values": []}, "mark": "point"},
        {
          "width": 263,
          "height": 212,
          "view": {"stroke": "#333333", "strokeWidth": 1.2},
          "resolve": {"axis": {"x": "independent", "y": "independent"}},
          "layer": [
            {
              "data": {"name": "pulses"},
              "mark": {"type": "line", "color": "#3c3c3c", "strokeWidth": 2, "interpolate": "step-after"},
              "encoding": {
                "x": {"field": "n", "type": "quantitative", "scale": {"domain": [0, 2000], "nice": false, "zero": false},
                      "axis": {"orient": "bottom", "values": [0, 500, 1000, 1500, 2000], "labels": false, "title": "Data number", "titlePadding": 7}},
                "y": {"field": "v", "type": "quantitative", "scale": {"domain": [-0.27, 18.66], "nice": false, "zero": false},
                      "axis": {"orient": "left", "values": [0, 5, 10, 15], "format": "d", "title": "Voltage (V)", "titlePadding": 12}}
              }
            },
            {
              "data": {"name": "rSignal"},
              "mark": {"type": "line", "color": "#ff0000", "strokeWidth": 1.1},
              "encoding": {
                "x": {"field": "n", "type": "quantitative", "scale": {"domain": [0, 2000], "nice": false, "zero": false}, "axis": null},
                "y": {"field": "r", "type": "quantitative", "scale": {"domain": [-0.27, 18.66], "nice": false, "zero": false},
                      "axis": {"orient": "left", "values": [2.5, 7.5, 12.5, 17.5], "labels": false, "domain": false, "tickSize": 2.5, "title": null}}
              }
            },
            {
              "data": {"name": "cLegendBlack"},
              "mark": {"type": "rule", "color": "#3c3c3c", "strokeWidth": 2},
              "encoding": {
                "x": {"field": "n", "type": "quantitative", "axis": null},
                "x2": {"field": "n2"},
                "y": {"field": "v", "type": "quantitative", "axis": null}
              }
            },
            {
              "data": {"name": "cLegendRed"},
              "mark": {"type": "rule", "color": "#ff0000", "strokeWidth": 1.5},
              "encoding": {
                "x": {"field": "n", "type": "quantitative", "axis": null},
                "x2": {"field": "n2"},
                "y": {"field": "v", "type": "quantitative", "axis": null}
              }
            },
            {
              "data": {"name": "cLegendText"},
              "mark": {"type": "text", "font": "Liberation Sans", "fontSize": 16.5, "align": "left", "baseline": "middle", "color": "#000"},
              "encoding": {
                "x": {"field": "n", "type": "quantitative", "axis": null},
                "y": {"field": "v", "type": "quantitative", "axis": null},
                "text": {"field": "s"}
              }
            },
            {
              "data": {"name": "cLegendSub"},
              "mark": {"type": "text", "font": "Liberation Sans", "fontSize": 11, "align": "left", "baseline": "middle", "color": "#000"},
              "encoding": {
                "x": {"field": "n", "type": "quantitative", "axis": null},
                "y": {"field": "v", "type": "quantitative", "axis": null},
                "text": {"field": "s"}
              }
            }
          ]
        },
        {"width": 10, "height": 76, "data": {"values": []}, "mark": "point"},
        {
          "spacing": 0,
          "bounds": "flush",
          "hconcat": [
            {"width": 3, "height": 10, "data": {"values": []}, "mark": "point"},
            {
              "width": 260,
              "height": 213,
              "view": {"stroke": "#333333", "strokeWidth": 1.2},
              "resolve": {"axis": {"x": "independent", "y": "independent"}},
              "layer": [
                {
                  "data": {"name": "resonance"},
                  "mark": {"type": "line", "color": "#000000", "strokeWidth": 1.1},
                  "encoding": {
                    "x": {"field": "f", "type": "quantitative", "scale": {"domain": [447.2, 477.2], "nice": false, "zero": false},
                          "axis": {"orient": "bottom", "values": [450, 455, 460, 465, 470, 475], "format": "d", "title": "Frecuencia (kHz)", "titlePadding": 8}},
                    "y": {"field": "r", "type": "quantitative", "scale": {"domain": [0, 3.0], "nice": false, "zero": false},
                          "axis": {"orient": "left", "values": [0, 0.5, 1, 1.5, 2, 2.5], "format": ".1f", "title": null}}
                  }
                },
                {
                  "data": {"name": "fit"},
                  "mark": {"type": "line", "color": "#ff0000", "strokeWidth": 3, "interpolate": "monotone"},
                  "encoding": {
                    "x": {"field": "f", "type": "quantitative", "scale": {"domain": [447.2, 477.2], "nice": false, "zero": false},
                          "axis": {"orient": "bottom", "values": [452.5, 457.5, 462.5, 467.5, 472.5], "labels": false, "domain": false, "tickSize": 2.5, "title": null}},
                    "y": {"field": "r", "type": "quantitative", "scale": {"domain": [0, 3.0], "nice": false, "zero": false},
                          "axis": {"orient": "left", "values": [0.25, 0.75, 1.25, 1.75, 2.25, 2.75], "labels": false, "domain": false, "tickSize": 2.5, "title": null}}
                  }
                },
                {
                  "data": {"name": "dLegendBlack"},
                  "mark": {"type": "rule", "color": "#000000", "strokeWidth": 1.2},
                  "encoding": {
                    "x": {"field": "f", "type": "quantitative", "axis": null},
                    "x2": {"field": "f2"},
                    "y": {"field": "r", "type": "quantitative", "axis": null}
                  }
                },
                {
                  "data": {"name": "dLegendRed"},
                  "mark": {"type": "rule", "color": "#ff0000", "strokeWidth": 3},
                  "encoding": {
                    "x": {"field": "f", "type": "quantitative", "axis": null},
                    "x2": {"field": "f2"},
                    "y": {"field": "r", "type": "quantitative", "axis": null}
                  }
                },
                {
                  "data": {"name": "dLegendText"},
                  "mark": {"type": "text", "font": "Liberation Sans", "fontSize": 17, "align": "left", "baseline": "middle", "color": "#000"},
                  "encoding": {
                    "x": {"field": "f", "type": "quantitative", "axis": null},
                    "y": {"field": "r", "type": "quantitative", "axis": null},
                    "text": {"field": "s"}
                  }
                }
              ]
            }
          ]
        }
      ]
    }
  ],
  "config": {
    "view": {"stroke": null},
    "font": "Liberation Sans",
    "axis": {
      "labelFont": "Liberation Sans",
      "titleFont": "Liberation Sans",
      "labelColor": "#000000",
      "titleColor": "#000000",
      "domainColor": "#333333",
      "tickColor": "#333333",
      "domainWidth": 1.2,
      "tickWidth": 1.2,
      "grid": false,
      "labelFontSize": 16,
      "titleFontSize": 19.5,
      "titleFontWeight": "normal",
      "tickSize": 4,
      "labelPadding": 2
    }
  }
}
